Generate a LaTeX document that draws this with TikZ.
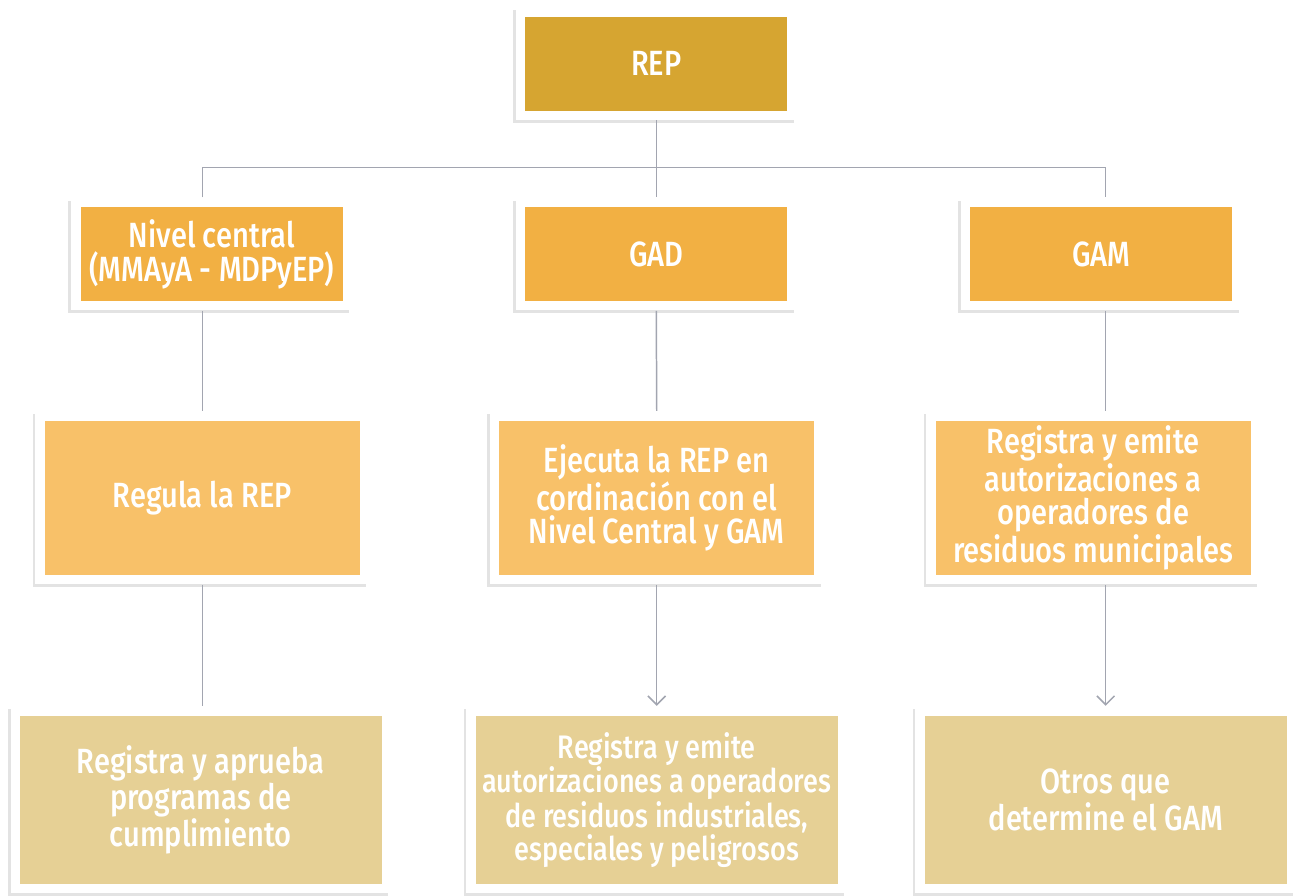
\documentclass[tikz,border=0pt]{standalone}
\usepackage{fontspec}
\setmainfont{Fira Sans}[UprightFont=* Medium,FakeStretch=0.83]
\usepackage{tikz}
\usepackage{xcolor}
\usetikzlibrary{fit,backgrounds,shadows,arrows.meta}
\definecolor{repgold}{HTML}{D6A531}
\definecolor{lvltwo}{HTML}{F2B043}
\definecolor{lvlthree}{HTML}{F8C169}
\definecolor{lvlfour}{HTML}{E6D095}
\definecolor{linkgray}{HTML}{A2A5B0}

\begin{document}
\begin{tikzpicture}[x=0.02cm,y=-0.02cm,
    box/.style={rectangle,inner sep=0pt,align=center,text=white,
      font=\fontsize{20}{19.2}\selectfont},
    small/.style={box,minimum width=5.26cm,minimum height=1.88cm},
    mid/.style={box,fill=lvlthree,minimum width=6.32cm,minimum height=3.1cm},
    big/.style={box,fill=lvlfour,minimum width=7.26cm,minimum height=3.38cm},
    frame/.style={rectangle,fill=white,inner sep=5.2pt,
      drop shadow={shadow xshift=-1.6pt,shadow yshift=-1.6pt,opacity=0.18,fill=black!60}},
    link/.style={draw=linkgray,line width=0.85pt},
    tip/.style={-{Straight Barb[length=5pt,width=10pt]}}]
      \node[small,fill=repgold] (rep) at (658.5,64) {REP};
      \node[small,fill=lvltwo] (nc) at (212.5,255) {Nivel central\\(MMAyA - MDPyEP)};
      \node[small,fill=lvltwo] (gad) at (658.5,255) {GAD};
      \node[small,fill=lvltwo] (gam) at (1105,255) {GAM};
      \node[mid] (regula) at (203,499.5) {Regula la REP};
      \node[mid] (ejecuta) at (659,499.5) {Ejecuta la REP en\\cordinación con el\\Nivel Central y GAM};
      \node[mid] (reggam) at (1097,499.5) {Registra y emite\\autorizaciones a\\operadores de\\residuos municipales};
      \node[big] (aprueba) at (201.5,802.5) {Registra y aprueba\\programas de\\cumplimiento};
      \node[big,font=\fontsize{18.6}{18.6}\selectfont] (indus) at (659,802.5) {Registra y emite\\autorizaciones a operadores\\de residuos industriales,\\especiales y peligrosos};
      \node[big] (otros) at (1109.5,802.5) {Otros que\\determine el GAM};
      \begin{scope}[on background layer]
        \fill[white] (0,0) rectangle (1296,899);
        \foreach \n in {rep,nc,gad,gam,regula,ejecuta,reggam,aprueba,indus,otros}
          \node[frame,fit=(\n)] (\n-f) {};
      \end{scope}
      \useasboundingbox (0,0) rectangle (1296,899);
      \coordinate (bus) at (658,168);
      \draw[link] (rep-f.south) -- (gad-f.north);
      \draw[link] (regula-f.north |- nc-f.north) |- (bus) -| (otros-f.north |- gam-f.north);
      \draw[link] (regula-f.north |- nc-f.south) -- (regula-f.north);
      \draw[link] (gad-f.south) -- (ejecuta-f.north);
      \draw[link] (otros-f.north |- gam-f.south) -- (otros-f.north |- reggam-f.north);
      \draw[link] (regula-f.south) -- (regula-f.south |- aprueba-f.north);
      \draw[link,tip] (ejecuta-f.south) -- (indus-f.north);
      \draw[link,tip] (otros-f.north |- reggam-f.south) -- (otros-f.north);
    \end{tikzpicture}
\end{document}
